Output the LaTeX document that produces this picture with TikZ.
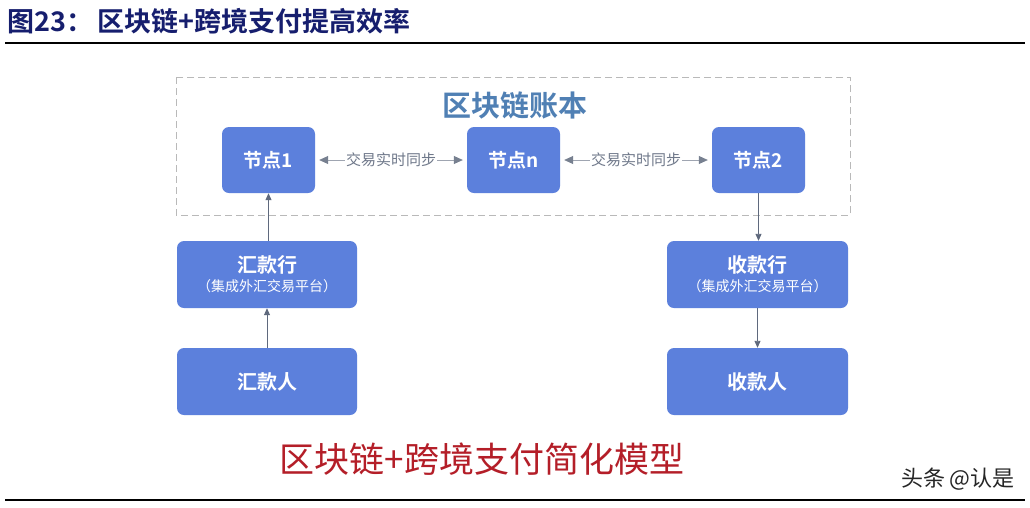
\documentclass[tikz,border=0pt]{standalone}
\usepackage{fontspec}
\setmainfont{Liberation Serif}
\newfontfamily\cjk{Noto Sans CJK SC}
\newfontfamily\cjkb{Noto Sans CJK SC Bold}
\usetikzlibrary{arrows.meta}
\definecolor{boxblue}{RGB}{92,128,220}
\definecolor{navy}{RGB}{22,30,110}
\definecolor{ledger}{RGB}{80,128,180}
\definecolor{arrowc}{RGB}{95,105,125}
\definecolor{capred}{RGB}{180,30,40}
\tikzset{
  bluebox/.style={draw=none, fill=boxblue, rounded corners=7pt, text=white, align=center, inner sep=0pt},
  flow/.style={draw=arrowc, line width=0.9pt, -{Triangle[length=7pt,width=6pt]}},
  sync/.style={draw=arrowc!60, line width=0.8pt, {Triangle[length=9pt,width=8pt,color=arrowc!85]}-{Triangle[length=9pt,width=8pt,color=arrowc!85]}},
  synclabel/.style={fill=white, text=arrowc!90, inner sep=1pt, font=\cjk\fontsize{15}{15}\selectfont}
}
\begin{document}
\begin{tikzpicture}[x=1pt,y=-1pt]
\useasboundingbox (0,0) rectangle (1030,507);
\fill[white] (0,0) rectangle (1030,507);
% title
\node[anchor=west, text=navy, font=\cjkb\fontsize{27}{27}\selectfont, inner sep=0pt] (title) at (7,21) {图23：\,区块链+跨境支付提高效率};
\draw[line width=2pt] (5,43) -- (1025,43);
% ledger frame
\draw[gray!55, line width=0.8pt, dash pattern=on 7pt off 4pt] (176,77) rectangle (850,215);
\node[text=ledger, font=\cjkb\fontsize{29}{29}\selectfont, inner sep=0pt] (ledger) at (515,105) {区块链账本};
% nodes
\node[bluebox, minimum width=93pt, minimum height=66pt, font=\cjkb\fontsize{19}{19}\selectfont] (n1) at (268.5,160) {节点1};
\node[bluebox, minimum width=93pt, minimum height=66pt, font=\cjkb\fontsize{19}{19}\selectfont] (nn) at (513.5,160) {节点n};
\node[bluebox, minimum width=93pt, minimum height=66pt, font=\cjkb\fontsize{19}{19}\selectfont] (n2) at (758.5,160) {节点2};
\node[bluebox, minimum width=180pt, minimum height=67pt] (rb) at (267,274.5) {{\cjkb\fontsize{20}{22}\selectfont 汇款行}\\[4pt]{\cjk\fontsize{14}{14}\selectfont （集成外汇交易平台）}};
\node[bluebox, minimum width=181pt, minimum height=67pt] (sb) at (757.5,274.5) {{\cjkb\fontsize{20}{22}\selectfont 收款行}\\[4pt]{\cjk\fontsize{14}{14}\selectfont （集成外汇交易平台）}};
\node[bluebox, minimum width=180pt, minimum height=67pt, font=\cjkb\fontsize{20}{20}\selectfont] (rp) at (267,381.5) {汇款人};
\node[bluebox, minimum width=181pt, minimum height=67pt, font=\cjkb\fontsize{20}{20}\selectfont] (sp) at (757.5,381.5) {收款人};
% sync arrows
\draw[sync] ([xshift=4pt]n1.east) -- node[synclabel] (l1) {交易实时同步} ([xshift=-4pt]nn.west);
\draw[sync] ([xshift=4pt]nn.east) -- node[synclabel] (l2) {交易实时同步} ([xshift=-4pt]n2.west);
% flow arrows
\draw[flow] (rb.north -| n1.south) -- (n1.south);
\draw[flow] (rp.north) -- (rb.south);
\draw[flow] (n2.south) -- (n2.south |- sb.north);
\draw[flow] (sb.south) -- (sp.north);
% caption
\node[text=capred, font=\cjk\fontsize{35}{35}\selectfont, inner sep=0pt] (cap) at (482,459) {区块链+跨境支付简化模型};
\node[anchor=east, text=black!85, font=\cjk\fontsize{22}{22}\selectfont, inner sep=0pt] (wm) at (1015,479) {头条 @认是};
\draw[line width=2pt] (5,500) -- (1025,500);
\end{tikzpicture}
\end{document}
